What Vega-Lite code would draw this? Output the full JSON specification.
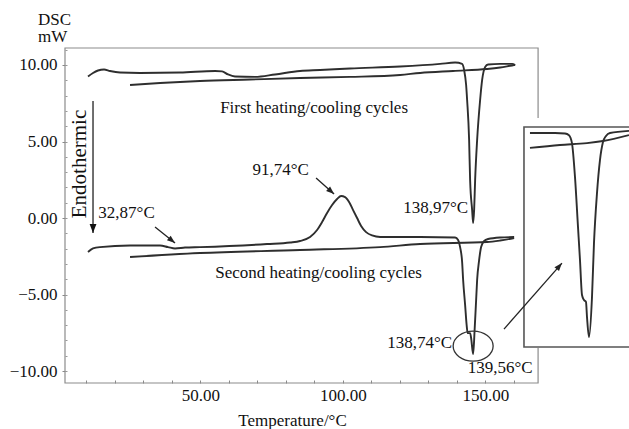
{
  "$schema": "https://vega.github.io/schema/vega-lite/v6.json",
  "width": 564,
  "height": 335,
  "autosize": {"type": "none"},
  "padding": {"left": 65, "top": 48, "right": 0, "bottom": 46},
  "background": "white",
  "config": {
    "view": {"stroke": null},
    "font": "Liberation Serif",
    "axis": {"labelFont": "Liberation Serif", "titleFont": "Liberation Serif", "grid": false, "labelColor": "#111", "tickColor": "#888"}
  },
  "datasets": {
    "curves": [
      {"s": "c1h", "T": 10.57, "mW": 9.25}, {"s": "c1h", "T": 12.33, "mW": 9.48}, {"s": "c1h", "T": 14.08, "mW": 9.64}, {"s": "c1h", "T": 16.19, "mW": 9.71}, {"s": "c1h", "T": 18.29, "mW": 9.61}, {"s": "c1h", "T": 21.8, "mW": 9.51}, {"s": "c1h", "T": 28.82, "mW": 9.48}, {"s": "c1h", "T": 42.86, "mW": 9.51}, {"s": "c1h", "T": 55.15, "mW": 9.61}, {"s": "c1h", "T": 57.61, "mW": 9.58}, {"s": "c1h", "T": 59.71, "mW": 9.38}, {"s": "c1h", "T": 62.17, "mW": 9.25}, {"s": "c1h", "T": 69.19, "mW": 9.22}, {"s": "c1h", "T": 76.21, "mW": 9.38}, {"s": "c1h", "T": 84.98, "mW": 9.61}, {"s": "c1h", "T": 92.0, "mW": 9.67}, {"s": "c1h", "T": 102.53, "mW": 9.77}, {"s": "c1h", "T": 120.08, "mW": 9.9}, {"s": "c1h", "T": 134.12, "mW": 10.07}, {"s": "c1h", "T": 139.39, "mW": 10.16}, {"s": "c1h", "T": 141.85, "mW": 10.07}, {"s": "c1h", "T": 142.55, "mW": 9.67}, {"s": "c1h", "T": 143.25, "mW": 8.69}, {"s": "c1h", "T": 143.6, "mW": 7.71}, {"s": "c1h", "T": 144.3, "mW": 5.1}, {"s": "c1h", "T": 144.65, "mW": 2.48}, {"s": "c1h", "T": 145.36, "mW": 0.52}, {"s": "c1h", "T": 145.71, "mW": -0.33}, {"s": "c1h", "T": 146.06, "mW": 0.52}, {"s": "c1h", "T": 146.41, "mW": 2.48}, {"s": "c1h", "T": 147.11, "mW": 5.1}, {"s": "c1h", "T": 148.16, "mW": 7.71}, {"s": "c1h", "T": 148.87, "mW": 9.02}, {"s": "c1h", "T": 149.92, "mW": 9.87}, {"s": "c1h", "T": 150.97, "mW": 10.03}, {"s": "c1h", "T": 155.19, "mW": 10.07}, {"s": "c1h", "T": 159.4, "mW": 10.07}, {"s": "c1h", "T": 160.45, "mW": 10.0},
      {"s": "c1c", "T": 25.32, "mW": 8.69}, {"s": "c1c", "T": 35.85, "mW": 8.82}, {"s": "c1c", "T": 49.89, "mW": 8.95}, {"s": "c1c", "T": 67.44, "mW": 9.05}, {"s": "c1c", "T": 84.98, "mW": 9.15}, {"s": "c1c", "T": 102.53, "mW": 9.22}, {"s": "c1c", "T": 120.08, "mW": 9.35}, {"s": "c1c", "T": 127.1, "mW": 9.48}, {"s": "c1c", "T": 138.68, "mW": 9.61}, {"s": "c1c", "T": 150.62, "mW": 9.74}, {"s": "c1c", "T": 155.19, "mW": 9.84}, {"s": "c1c", "T": 159.4, "mW": 9.97}, {"s": "c1c", "T": 160.45, "mW": 10.0},
      {"s": "c2h", "T": 10.57, "mW": -2.22}, {"s": "c2h", "T": 12.33, "mW": -1.99}, {"s": "c2h", "T": 14.78, "mW": -1.9}, {"s": "c2h", "T": 25.32, "mW": -1.8}, {"s": "c2h", "T": 35.85, "mW": -1.8}, {"s": "c2h", "T": 38.65, "mW": -1.9}, {"s": "c2h", "T": 41.11, "mW": -1.99}, {"s": "c2h", "T": 44.62, "mW": -1.93}, {"s": "c2h", "T": 49.89, "mW": -1.9}, {"s": "c2h", "T": 73.4, "mW": -1.7}, {"s": "c2h", "T": 81.48, "mW": -1.6}, {"s": "c2h", "T": 84.98, "mW": -1.5}, {"s": "c2h", "T": 88.49, "mW": -1.24}, {"s": "c2h", "T": 90.95, "mW": -0.78}, {"s": "c2h", "T": 92.71, "mW": -0.26}, {"s": "c2h", "T": 94.46, "mW": 0.33}, {"s": "c2h", "T": 96.22, "mW": 0.85}, {"s": "c2h", "T": 97.97, "mW": 1.24}, {"s": "c2h", "T": 99.38, "mW": 1.44}, {"s": "c2h", "T": 100.78, "mW": 1.37}, {"s": "c2h", "T": 102.18, "mW": 1.05}, {"s": "c2h", "T": 103.59, "mW": 0.52}, {"s": "c2h", "T": 104.99, "mW": 0.0}, {"s": "c2h", "T": 106.4, "mW": -0.52}, {"s": "c2h", "T": 108.15, "mW": -0.92}, {"s": "c2h", "T": 110.26, "mW": -1.14}, {"s": "c2h", "T": 113.07, "mW": -1.24}, {"s": "c2h", "T": 127.1, "mW": -1.24}, {"s": "c2h", "T": 139.39, "mW": -1.27}, {"s": "c2h", "T": 140.44, "mW": -1.44}, {"s": "c2h", "T": 141.14, "mW": -1.9}, {"s": "c2h", "T": 141.85, "mW": -2.88}, {"s": "c2h", "T": 142.2, "mW": -4.05}, {"s": "c2h", "T": 142.9, "mW": -5.69}, {"s": "c2h", "T": 143.43, "mW": -6.99}, {"s": "c2h", "T": 143.78, "mW": -7.52}, {"s": "c2h", "T": 144.65, "mW": -7.52}, {"s": "c2h", "T": 145.0, "mW": -7.84}, {"s": "c2h", "T": 145.71, "mW": -8.89}, {"s": "c2h", "T": 146.23, "mW": -7.32}, {"s": "c2h", "T": 146.76, "mW": -5.36}, {"s": "c2h", "T": 147.11, "mW": -4.05}, {"s": "c2h", "T": 147.81, "mW": -2.75}, {"s": "c2h", "T": 148.51, "mW": -1.9}, {"s": "c2h", "T": 149.57, "mW": -1.5}, {"s": "c2h", "T": 150.97, "mW": -1.37}, {"s": "c2h", "T": 155.19, "mW": -1.27}, {"s": "c2h", "T": 160.1, "mW": -1.24},
      {"s": "c2c", "T": 25.32, "mW": -2.55}, {"s": "c2c", "T": 49.89, "mW": -2.29}, {"s": "c2c", "T": 84.98, "mW": -2.09}, {"s": "c2c", "T": 113.07, "mW": -1.9}, {"s": "c2c", "T": 127.1, "mW": -1.7}, {"s": "c2c", "T": 150.62, "mW": -1.57}, {"s": "c2c", "T": 155.19, "mW": -1.47}, {"s": "c2c", "T": 160.1, "mW": -1.31}
    ],
    "inset": [
      {"s": "up", "T": 131.41, "mW": -1.2}, {"s": "up", "T": 137.47, "mW": -1.2}, {"s": "up", "T": 139.89, "mW": -1.22}, {"s": "up", "T": 140.86, "mW": -1.28}, {"s": "up", "T": 141.58, "mW": -1.58}, {"s": "up", "T": 142.31, "mW": -2.85}, {"s": "up", "T": 143.04, "mW": -4.73}, {"s": "up", "T": 143.52, "mW": -5.97}, {"s": "up", "T": 144.01, "mW": -7.29}, {"s": "up", "T": 144.49, "mW": -7.48}, {"s": "up", "T": 144.97, "mW": -7.55}, {"s": "up", "T": 145.22, "mW": -8.12}, {"s": "up", "T": 145.7, "mW": -8.87}, {"s": "up", "T": 146.43, "mW": -7.37}, {"s": "up", "T": 146.91, "mW": -5.34}, {"s": "up", "T": 147.64, "mW": -3.46}, {"s": "up", "T": 148.36, "mW": -2.22}, {"s": "up", "T": 149.09, "mW": -1.54}, {"s": "up", "T": 149.82, "mW": -1.31}, {"s": "up", "T": 150.78, "mW": -1.2}, {"s": "up", "T": 155.39, "mW": -1.12},
      {"s": "low", "T": 131.41, "mW": -1.76}, {"s": "low", "T": 138.68, "mW": -1.65}, {"s": "low", "T": 145.22, "mW": -1.58}, {"s": "low", "T": 149.09, "mW": -1.5}, {"s": "low", "T": 155.39, "mW": -1.28}
    ],
    "labels": [
      {"text": "First heating/cooling cycles", "T": 89.9, "mW": 7.19},
      {"text": "Second heating/cooling cycles", "T": 91.48, "mW": -3.59},
      {"text": "91,74°C", "T": 78.14, "mW": 3.14},
      {"text": "32,87°C", "T": 24.09, "mW": 0.33},
      {"text": "138,97°C", "T": 132.55, "mW": 0.65},
      {"text": "138,74°C", "T": 126.93, "mW": -8.17},
      {"text": "139,56°C", "T": 155.18, "mW": -9.8}
    ],
    "unit": [
      {"text": "DSC", "T": -6.98, "mW": 12.95},
      {"text": "mW", "T": -6.98, "mW": 11.8}
    ],
    "side": [{"text": "Endothermic", "T": 7.77, "mW": 3.53}],
    "arrows": [
      {"id": "a1", "T": 90.6, "mW": 2.61, "T2": 96.92, "mW2": 1.57},
      {"id": "a2", "T": 34.09, "mW": -0.59, "T2": 41.11, "mW2": -1.63},
      {"id": "a4", "T": 12.33, "mW": 7.65, "T2": 12.33, "mW2": -0.98}
    ],
    "insetArrow": [{"T": 125.12, "mW": -8.57, "T2": 139.16, "mW2": -6.09}],
    "ring": [{"T": 145.71, "mW": -8.37}],
    "frame": [{"T": 2.5, "T2": 168.5, "mW": -10.78, "mW2": 11.11}],
    "insetBox": [{"T": 129.96, "T2": 170, "mW": -9.245, "mW2": -0.974}],
    "insetBg": [{"T": 128.75, "T2": 170, "mW": -9.28, "mW2": -0.636}]
  },
  "layer": [
    {
      "resolve": {"axis": {"x": "independent", "y": "independent"}},
      "layer": [
        {
          "data": {"name": "frame"},
          "mark": {"type": "rect", "fill": null, "filled": false, "stroke": "#8c8c8c", "strokeWidth": 1.2},
          "encoding": {
            "x": {"field": "T", "type": "quantitative", "scale": {"domain": [2.5, 200.4], "nice": false, "zero": false}, "axis": null},
            "x2": {"field": "T2"},
            "y": {"field": "mW", "type": "quantitative", "scale": {"domain": [-10.78, 11.11], "nice": false, "zero": false},
                  "axis": {"orient": "left", "values": [-10, -9, -8, -7, -6, -5, -4, -3, -2, -1, 0, 1, 2, 3, 4, 5, 6, 7, 8, 9, 10, 11], "labels": false, "tickSize": -2, "domain": false, "title": null, "tickColor": "#999"}},
            "y2": {"field": "mW2"}
          }
        },
        {
          "data": {"name": "curves"},
          "mark": {"type": "line", "color": "#2e2e2e", "strokeWidth": 1.9, "interpolate": "monotone"},
          "encoding": {
            "x": {"field": "T", "type": "quantitative", "scale": {"domain": [2.5, 200.4], "nice": false, "zero": false},
                  "axis": {"orient": "bottom", "values": [10, 20, 30, 40, 50, 60, 70, 80, 90, 100, 110, 120, 130, 140, 150, 160], "labelExpr": "datum.value % 50 === 0 ? format(datum.value, '.2f') : ''", "tickSize": -3, "domain": false, "labelFontSize": 17, "labelPadding": 7, "title": "Temperature/°C", "titleFontSize": 17, "titleFontWeight": "normal", "titleColor": "#111", "titleX": 227, "titleY": 37, "titleBaseline": "middle", "labelOverlap": false}},
            "y": {"field": "mW", "type": "quantitative", "scale": {"domain": [-10.78, 11.11], "nice": false, "zero": false},
                  "axis": {"orient": "left", "values": [-10, -5, 0, 5, 10], "format": ".2f", "tickSize": 3, "domain": false, "labelFontSize": 17, "labelPadding": 5, "title": null}},
            "detail": {"field": "s", "type": "nominal"}
          }
        },
        {
          "data": {"name": "labels"},
          "mark": {"type": "text", "fontSize": 17, "align": "center", "baseline": "middle", "color": "#111", "font": "Liberation Serif"},
          "encoding": {
            "x": {"field": "T", "type": "quantitative", "axis": null},
            "y": {"field": "mW", "type": "quantitative", "axis": null},
            "text": {"field": "text"}
          }
        },
        {
          "data": {"name": "unit"},
          "mark": {"type": "text", "fontSize": 17, "align": "left", "baseline": "middle", "color": "#111", "font": "Liberation Serif"},
          "encoding": {
            "x": {"field": "T", "type": "quantitative", "axis": null},
            "y": {"field": "mW", "type": "quantitative", "axis": null},
            "text": {"field": "text"}
          }
        },
        {
          "data": {"name": "side"},
          "mark": {"type": "text", "fontSize": 21, "align": "center", "baseline": "middle", "angle": 270, "color": "#111", "font": "Liberation Serif"},
          "encoding": {
            "x": {"field": "T", "type": "quantitative", "axis": null},
            "y": {"field": "mW", "type": "quantitative", "axis": null},
            "text": {"field": "text"}
          }
        },
        {
          "data": {"name": "arrows"},
          "mark": {"type": "rule", "color": "#222", "strokeWidth": 1.3},
          "encoding": {
            "x": {"field": "T", "type": "quantitative", "axis": null},
            "y": {"field": "mW", "type": "quantitative", "axis": null},
            "x2": {"field": "T2"},
            "y2": {"field": "mW2"}
          }
        },
        {
          "data": {"name": "arrows"},
          "transform": [{"filter": "datum.id === 'a1'"}],
          "mark": {"type": "point", "shape": "M0,0L-1.5,4L1.5,4Z", "size": 16, "filled": true, "color": "#222", "opacity": 1, "angle": 131.6},
          "encoding": {
            "x": {"field": "T2", "type": "quantitative", "axis": null},
            "y": {"field": "mW2", "type": "quantitative", "axis": null}
          }
        },
        {
          "data": {"name": "arrows"},
          "transform": [{"filter": "datum.id === 'a2'"}],
          "mark": {"type": "point", "shape": "M0,0L-1.5,4L1.5,4Z", "size": 16, "filled": true, "color": "#222", "opacity": 1, "angle": 128.7},
          "encoding": {
            "x": {"field": "T2", "type": "quantitative", "axis": null},
            "y": {"field": "mW2", "type": "quantitative", "axis": null}
          }
        },
        {
          "data": {"name": "arrows"},
          "transform": [{"filter": "datum.id === 'a4'"}],
          "mark": {"type": "point", "shape": "M0,0L-1.7,4.5L1.7,4.5Z", "size": 16, "filled": true, "color": "#111", "opacity": 1, "angle": 180},
          "encoding": {
            "x": {"field": "T2", "type": "quantitative", "axis": null},
            "y": {"field": "mW2", "type": "quantitative", "axis": null}
          }
        },
        {
          "data": {"name": "ring"},
          "mark": {"type": "point", "shape": "M-2,0A2,1.5,0,1,0,2,0A2,1.5,0,1,0,-2,0Z", "size": 400, "filled": false, "stroke": "#333", "strokeWidth": 1.3, "opacity": 1},
          "encoding": {
            "x": {"field": "T", "type": "quantitative", "axis": null},
            "y": {"field": "mW", "type": "quantitative", "axis": null}
          }
        }
      ]
    },
    {
      "layer": [
        {
          "data": {"name": "insetBg"},
          "mark": {"type": "rect", "fill": "white", "stroke": null},
          "encoding": {
            "x": {"field": "T", "type": "quantitative", "scale": {"domain": [18.82, 155.39], "nice": false, "zero": false}, "axis": null},
            "x2": {"field": "T2"},
            "y": {"field": "mW", "type": "quantitative", "scale": {"domain": [-10.598, 1.996], "nice": false, "zero": false}, "axis": null},
            "y2": {"field": "mW2"}
          }
        },
        {
          "data": {"name": "insetBox"},
          "mark": {"type": "rect", "fill": null, "filled": false, "stroke": "#555", "strokeWidth": 1.6},
          "encoding": {
            "x": {"field": "T", "type": "quantitative", "scale": {"domain": [18.82, 155.39], "nice": false, "zero": false}, "axis": null},
            "x2": {"field": "T2"},
            "y": {"field": "mW", "type": "quantitative", "scale": {"domain": [-10.598, 1.996], "nice": false, "zero": false}, "axis": null},
            "y2": {"field": "mW2"}
          }
        },
        {
          "data": {"name": "inset"},
          "mark": {"type": "line", "color": "#2e2e2e", "strokeWidth": 1.9, "interpolate": "monotone"},
          "encoding": {
            "x": {"field": "T", "type": "quantitative", "scale": {"domain": [18.82, 155.39], "nice": false, "zero": false}, "axis": null},
            "y": {"field": "mW", "type": "quantitative", "scale": {"domain": [-10.598, 1.996], "nice": false, "zero": false}, "axis": null},
            "detail": {"field": "s", "type": "nominal"}
          }
        },
        {
          "data": {"name": "insetArrow"},
          "mark": {"type": "rule", "color": "#222", "strokeWidth": 1.3},
          "encoding": {
            "x": {"field": "T", "type": "quantitative", "scale": {"domain": [18.82, 155.39], "nice": false, "zero": false}, "axis": null},
            "y": {"field": "mW", "type": "quantitative", "scale": {"domain": [-10.598, 1.996], "nice": false, "zero": false}, "axis": null},
            "x2": {"field": "T2"},
            "y2": {"field": "mW2"}
          }
        },
        {
          "data": {"name": "insetArrow"},
          "mark": {"type": "point", "shape": "M0,0L-1.5,4L1.5,4Z", "size": 16, "filled": true, "color": "#222", "opacity": 1, "angle": 40.9},
          "encoding": {
            "x": {"field": "T2", "type": "quantitative", "scale": {"domain": [18.82, 155.39], "nice": false, "zero": false}, "axis": null},
            "y": {"field": "mW2", "type": "quantitative", "scale": {"domain": [-10.598, 1.996], "nice": false, "zero": false}, "axis": null}
          }
        }
      ]
    }
  ],
  "resolve": {"scale": {"x": "independent", "y": "independent"}}
}
